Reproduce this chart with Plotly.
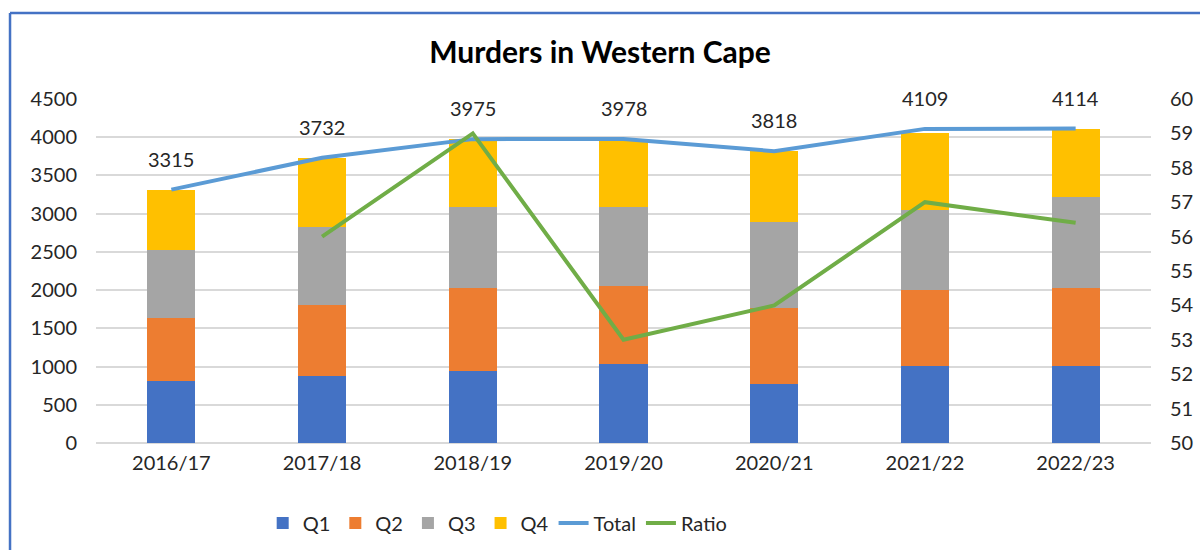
import plotly.graph_objects as go

categories = ["2016/17", "2017/18", "2018/19", "2019/20", "2020/21", "2021/22", "2022/23"]
q1 = [805, 871, 936, 1037, 771, 1001, 1001]
q2 = [824, 928, 1090, 1023, 994, 994, 1025]
q3 = [898, 1024, 1063, 1029, 1124, 1059, 1194]
q4 = [788, 909, 886, 889, 929, 998, 894]
total = [3315, 3732, 3975, 3978, 3818, 4109, 4114]
ratio = [None, 56.0, 59.0, 53.0, 54.0, 57.0, 56.4]

FONT = "Lato"
TXT = "#262626"

fig = go.Figure()
for name, vals, col in [("Q1", q1, "#4472C4"), ("Q2", q2, "#ED7D31"),
                        ("Q3", q3, "#A5A5A5"), ("Q4", q4, "#FFC000")]:
    fig.add_trace(go.Bar(x=categories, y=vals, name=name, marker_color=col,
                         marker_line_width=0))
fig.add_trace(go.Scatter(x=categories, y=total, name="Total", mode="lines",
                         line=dict(color="#5B9BD5", width=4)))
fig.add_trace(go.Scatter(x=categories, y=ratio, name="Ratio", mode="lines",
                         line=dict(color="#70AD47", width=4), yaxis="y2"))

for c, t in zip(categories, total):
    fig.add_annotation(x=c, y=t, text=str(t), showarrow=False, yanchor="middle",
                       yshift=31, font=dict(family=FONT, size=20, color=TXT))

border = "#4472C4"
fig.add_shape(type="line", xref="paper", yref="paper", x0=-0.0815, x1=1.1,
              y0=1.25, y1=1.25, line=dict(color=border, width=2.5))
fig.add_shape(type="line", xref="paper", yref="paper", x0=-0.0815, x1=-0.0815,
              y0=1.25, y1=-0.4, line=dict(color=border, width=2.5))

fig.update_layout(
    width=1200, height=550,
    margin=dict(l=96, r=49, t=99, b=107, autoexpand=False),
    paper_bgcolor="white", plot_bgcolor="white",
    barmode="stack", bargap=0.68,
    font=dict(family=FONT, size=20, color=TXT),
    title=dict(text="<b>Murders in Western Cape</b>", x=0.5, xanchor="center",
               y=1 - 52 / 550, yanchor="middle",
               font=dict(family=FONT, size=30, color="black")),
    xaxis=dict(showgrid=False, showline=False, ticks="", tickfont=dict(size=20),
               ticklabelstandoff=6),
    yaxis=dict(range=[0, 4500], dtick=500, showgrid=True, gridcolor="#D9D9D9",
               gridwidth=2, zeroline=True, zerolinecolor="#D9D9D9", zerolinewidth=2,
               ticks="", ticklabelstandoff=18, tickfont=dict(size=20)),
    yaxis2=dict(range=[50, 60], dtick=1, overlaying="y", side="right",
                showgrid=False, zeroline=False, ticks="", ticklabelstandoff=18,
                tickfont=dict(size=20)),
    legend=dict(orientation="h", x=0.158, xanchor="left", y=-0.2326,
                yanchor="middle", font=dict(size=20), traceorder="normal",
                itemwidth=30),
    showlegend=True,
)

fig.write_html("out.html", config={"displayModeBar": False},
               post_script="document.body.style.margin='0';")
